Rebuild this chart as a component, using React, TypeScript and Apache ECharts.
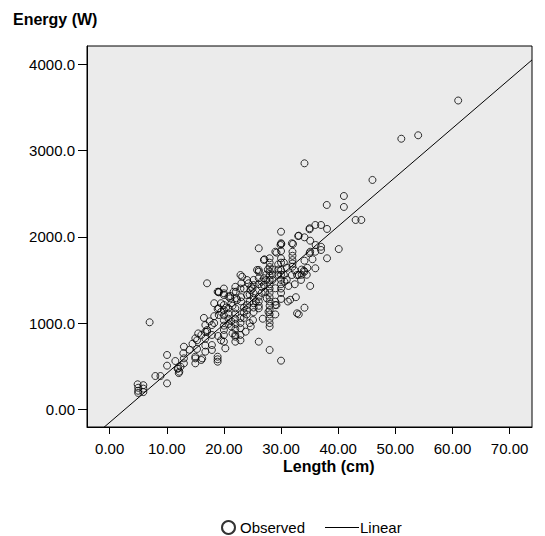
import React, { useEffect, useRef } from "react";
import * as echarts from "echarts";

// Observed points: [length (cm), energy (W)]
const observedLength: number[] = [
  4.9, 5.0, 5.0, 5.0, 5.9, 5.9, 5.9, 7.0, 8.0, 8.9,
  10.05, 10.05, 10.05, 12.0, 12.2, 12.4, 12.1, 13.0, 13.0, 13.0,
  15.0, 15.0, 15.0, 15.0, 15.3, 15.3, 16.05, 16.05, 16.2, 16.75,
  16.75, 16.75, 16.75, 16.75, 17.05, 17.05, 17.05, 17.9, 17.9, 17.9,
  17.9, 18.9, 18.9, 18.9, 18.9, 18.9, 19.1, 19.1, 19.1, 20.0,
  20.0, 20.0, 20.0, 20.0, 20.0, 20.0, 20.0, 20.0, 20.0, 20.25,
  20.8, 20.8, 20.8, 20.8, 20.8, 21.1, 21.7, 22.0, 22.0, 22.0,
  22.0, 22.0, 22.0, 22.0, 22.0, 22.1, 22.2, 22.3, 22.9, 22.9,
  22.9, 22.9, 22.9, 23.05, 23.2, 23.0, 23.0, 24.05, 24.3, 24.05,
  24.05, 24.0, 24.0, 24.5, 25.2, 25.2, 25.2, 25.2, 25.2, 25.1,
  25.8, 25.0, 26.1, 26.1, 26.1, 26.1, 26.1, 26.1, 26.1, 26.1,
  27.0, 27.2, 27.5, 27.0, 27.0, 27.1, 28.0, 28.0, 28.0, 28.0,
  28.0, 28.0, 28.0, 28.0, 28.0, 28.0, 28.0, 28.0, 28.0, 28.0,
  28.0, 28.0, 28.0, 28.0, 29.0, 29.0, 29.0, 29.0, 29.2, 29.2,
  30.0, 30.0, 30.0, 30.0, 30.0, 30.0, 30.0, 30.0, 30.0, 30.0,
  30.0, 29.9, 30.05, 31.9, 32.0, 32.0, 32.0, 32.0, 32.0, 31.9,
  32.8, 32.8, 32.1, 33.1, 33.1, 33.1, 33.0, 34.1, 34.1, 34.1,
  34.0, 34.1, 34.1, 35.1, 35.0, 35.0, 35.1, 35.1, 35.0, 36.0,
  36.05, 36.0, 36.0, 37.0, 37.0, 37.0, 38.0, 38.05, 38.05, 40.1,
  41.0, 41.0, 43.05, 44.05, 46.0, 51.05, 54.0, 61.0, 19.1, 21.1,
  25.2, 31.6, 30.6, 33.5, 34.5, 23.5, 24.8, 21.5, 18.3, 26.6,
  19.5, 19.5, 21.3, 21.3, 21.3, 20.4, 23.5, 23.5, 23.5, 24.5,
  24.5, 24.7, 25.6, 26.6, 26.6, 27.4, 27.4, 27.7, 28.5, 28.5,
  28.5, 29.5, 29.5, 29.5, 30.5, 30.5, 31.0, 31.0, 31.3, 32.4,
  32.4, 33.6, 33.6, 34.6, 35.5, 30.0, 30.0, 26.1, 26.1, 25.2,
  22.9, 22.0, 20.0, 18.3, 18.3, 17.5, 16.5, 15.5, 14.5, 14.0,
  12.9, 11.5, 11.9, 19.0, 19.5, 21.5, 23.8, 24.7, 22.9, 26.8,
  27.8, 29.0, 31.2, 32.6,
];
const observedEnergy: number[] = [
  290, 250, 215, 190, 280, 240, 200, 1009, 386, 386,
  630, 506, 301, 475, 436, 494, 420, 726, 591, 533,
  823, 610, 533, 591, 800, 700, 862, 572, 591, 977,
  900, 820, 740, 668, 1461, 900, 919, 977, 862, 745,
  688, 1363, 1163, 610, 552, 580, 1171, 1093, 1363, 1345,
  1325, 1209, 1150, 1090, 1030, 970, 920, 862, 784, 707,
  1306, 1171, 1110, 1050, 990, 1287, 1363, 1171, 1110, 1050,
  990, 930, 862, 842, 784, 1363, 1287, 1267, 1557, 1058,
  1000, 940, 862, 1461, 1537, 1300, 1250, 1499, 1461, 1209,
  1325, 1150, 1100, 1000, 1345, 1290, 1230, 1180, 1127, 1035,
  1615, 1400, 1867, 1615, 1595, 1306, 1250, 1200, 1171, 784,
  1441, 1363, 1287, 1731, 1520, 1739, 1751, 1700, 1650, 1600,
  1550, 1500, 1450, 1400, 1350, 1300, 1250, 1200, 1150, 1100,
  1050, 1000, 958, 688, 1827, 1403, 1248, 1209, 1816, 1209,
  2059, 1925, 1835, 1615, 1560, 1500, 1450, 1400, 1349, 1280,
  564, 1905, 1917, 1925, 1827, 1780, 1730, 1690, 1653, 1557,
  1557, 1113, 1917, 2013, 1557, 1101, 2009, 2852, 1994, 1723,
  1607, 1178, 1595, 1955, 2087, 2099, 1827, 1430, 1809, 2137,
  1905, 1635, 1827, 2137, 1847, 1885, 2369, 2091, 1751, 1858,
  2473, 2346, 2195, 2195, 2659, 3137, 3177, 3580, 1356, 1314,
  1441, 1270, 1480, 1500, 1560, 1400, 1420, 1200, 1000, 1480,
  1230, 1130, 1230, 1020, 960, 1180, 1180, 1120, 1060, 1250,
  1330, 1380, 1250, 1350, 1420, 1500, 1560, 1620, 1500, 1560,
  1620, 1560, 1620, 1680, 1560, 1700, 1500, 1640, 1430, 1450,
  1610, 1560, 1620, 1640, 1740, 1750, 1700, 1450, 1520, 1500,
  1400, 1420, 1400, 1230, 1080, 1020, 1060, 880, 760, 690,
  650, 560, 470, 850, 800, 880, 900, 960, 800, 1050,
  1130, 1100, 1250, 1300,
];

// Linear fit: energy = slope * length + intercept
const fitSlope = 56.85;
const fitIntercept = -152;

// Axes
const xMin = -3.96;
const xMax = 73.92;
const yMin = -205;
const yMax = 4212;
const xTickValues: number[] = [0, 10, 20, 30, 40, 50, 60, 70];
const xTickLabels: string[] = ["0.00", "10.00", "20.00", "30.00", "40.00", "50.00", "60.00", "70.00"];
const yTickValues: number[] = [0, 1000, 2000, 3000, 4000];
const yTickLabels: string[] = ["0.00", "1000.0", "2000.0", "3000.0", "4000.0"];

const FONT = "'Liberation Sans', Arial, Helvetica, sans-serif";

export default function App() {
  const ref = useRef<HTMLDivElement>(null);
  useEffect(() => {
    if (!ref.current) return;
    const chart = echarts.init(ref.current, undefined, { renderer: "svg" });
    const points = observedLength.map((x, i) => [x, observedEnergy[i]]);
    const fitLine = [xMin, xMax].map((x) => [x, fitSlope * x + fitIntercept]);
    chart.setOption({
      animation: false,
      backgroundColor: "#ffffff",
      textStyle: { fontFamily: FONT },
      title: [
        {
          text: "Energy (W)",
          left: 13,
          top: 11,
          padding: 0,
          textStyle: { fontFamily: FONT, fontSize: 16, fontWeight: "bold", color: "#000" },
        },
        {
          text: "Length (cm)",
          left: 283,
          top: 458,
          padding: 0,
          textStyle: { fontFamily: FONT, fontSize: 16, fontWeight: "bold", color: "#000" },
        },
      ],
      legend: [
        {
          data: ["Observed"],
          left: 221,
          top: 520,
          padding: 0,
          itemWidth: 13,
          itemHeight: 13,
          textStyle: { fontFamily: FONT, fontSize: 15, lineHeight: 14, color: "#000" },
        },
        {
          data: [{ name: "Linear", icon: "rect" }],
          left: 325,
          top: 520,
          padding: 0,
          itemWidth: 34,
          itemHeight: 1,
          textStyle: { fontFamily: FONT, fontSize: 15, lineHeight: 14, color: "#000", padding: [0, 0, 0, -4] },
        },
      ],
      grid: {
        left: 87,
        top: 46,
        width: 445,
        height: 381,
        show: true,
        backgroundColor: "#ebebeb",
        borderColor: "#000",
        borderWidth: 1,
      },
      xAxis: {
        type: "value",
        min: xMin,
        max: xMax,
        splitLine: { show: false },
        axisLine: { show: true, onZero: false, lineStyle: { color: "#000" } },
        axisTick: {
          show: true,
          inside: false,
          length: 7,
          customValues: xTickValues,
          lineStyle: { color: "#000" },
        },
        axisLabel: {
          customValues: xTickValues,
          margin: 14,
          fontSize: 15,
          fontFamily: FONT,
          color: "#000",
          formatter: (v: number) => {
            const i = xTickValues.indexOf(Math.round(v));
            return i >= 0 ? xTickLabels[i] : "";
          },
        },
      },
      yAxis: {
        type: "value",
        min: yMin,
        max: yMax,
        splitLine: { show: false },
        axisLine: { show: true, onZero: false, lineStyle: { color: "#000" } },
        axisTick: {
          show: true,
          inside: false,
          length: 9,
          customValues: yTickValues,
          lineStyle: { color: "#000" },
        },
        axisLabel: {
          customValues: yTickValues,
          margin: 12,
          fontSize: 15,
          fontFamily: FONT,
          color: "#000",
          formatter: (v: number) => {
            const i = yTickValues.indexOf(Math.round(v));
            return i >= 0 ? yTickLabels[i] : "";
          },
        },
      },
      series: [
        {
          name: "Observed",
          type: "scatter",
          symbol: "circle",
          symbolSize: 7,
          data: points,
          itemStyle: { color: "rgba(0,0,0,0)", borderColor: "#000", borderWidth: 1 },
          z: 3,
        },
        {
          name: "Linear",
          type: "line",
          data: fitLine,
          symbol: "none",
          clip: true,
          lineStyle: { color: "#000", width: 1 },
          itemStyle: { color: "#000" },
          z: 2,
        },
      ],
    });
    return () => chart.dispose();
  }, []);
  return <div ref={ref} style={{ width: 545, height: 536, position: "absolute", left: 0, top: 0 }} />;
}
